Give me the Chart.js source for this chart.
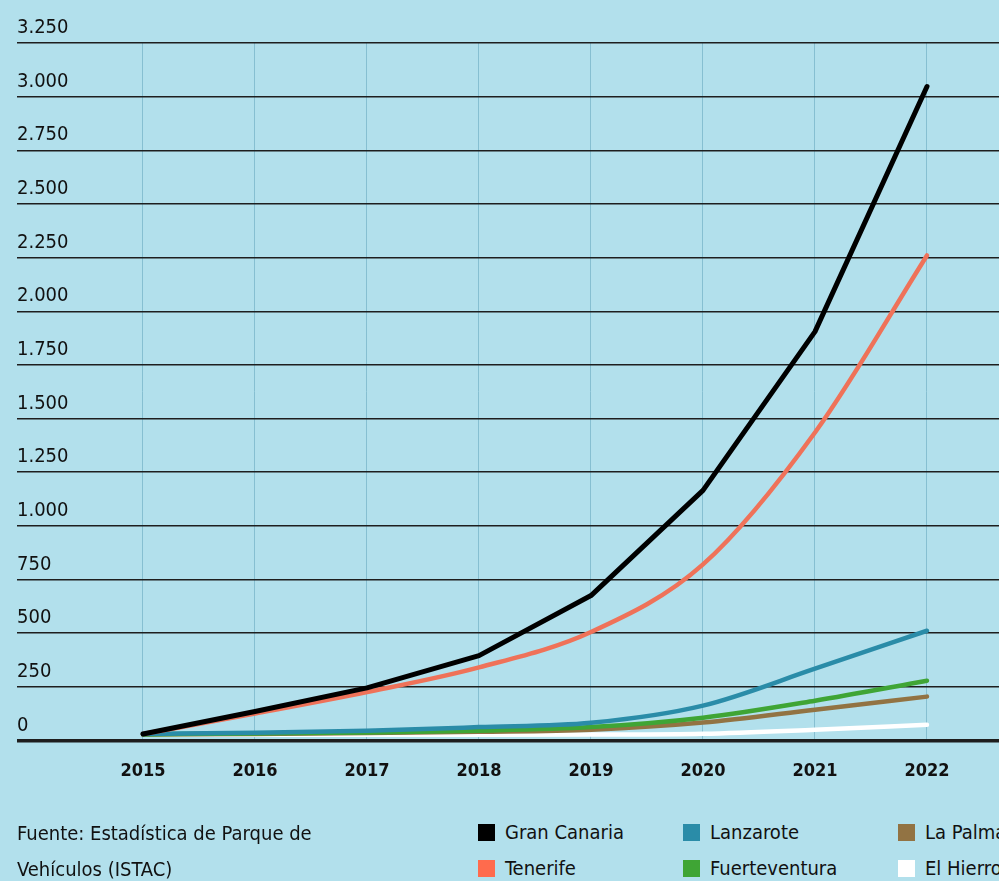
<!DOCTYPE html>
<html><head><meta charset="utf-8">
<script src="https://cdn.jsdelivr.net/npm/chart.js@4"></script>
<style>
html,body{margin:0;padding:0;background:#b2e0ec;width:999px;height:881px;overflow:hidden;font-family:"DejaVu Sans Condensed","Liberation Sans Narrow",sans-serif;}
#c{position:absolute;left:0;top:0;}
#source{position:absolute;left:17px;top:815px;font-size:20px;line-height:36px;color:#111;}
.leg{position:absolute;font-size:20px;color:#111;white-space:nowrap;line-height:24px;}
.sw{display:inline-block;width:17px;height:17px;margin-right:10px;vertical-align:-2px;}
</style></head>
<body>
<canvas id="c" width="999" height="818"></canvas>
<div id="source">Fuente: Estadística de Parque de<br>Vehículos (ISTAC)</div>
<div id="legend"></div>
<script>
const years = [2015, 2016, 2017, 2018, 2019, 2020, 2021, 2022];
const granCanaria   = [30, 135, 245, 395, 675, 1165, 1905, 3047];
const tenerife      = [30, 125, 225, 340, 505, 820, 1435, 2260];
const lanzarote     = [30, 36, 45, 62, 82, 162, 334, 511];
const fuerteventura = [28, 32, 37, 45, 62, 106, 185, 278];
const laPalma       = [28, 30, 34, 40, 50, 83, 143, 204];
const elHierro      = [26, 26, 26, 26, 27, 31, 50, 73];
const seriesNames   = ['Gran Canaria', 'Tenerife', 'Lanzarote', 'Fuerteventura', 'La Palma', 'El Hierro'];
const seriesValues  = [granCanaria, tenerife, lanzarote, fuerteventura, laPalma, elHierro];
const lineColors    = ['#000000', '#ef7259', '#2a8ca8', '#3fa535', '#927343', '#ffffff'];
const legendColors  = ['#000000', '#ff6b4d', '#2a8ca8', '#3fa535', '#927343', '#ffffff'];
const yTicks = [0, 250, 500, 750, 1000, 1250, 1500, 1750, 2000, 2250, 2500, 2750, 3000, 3250];

function fmt(v){ return String(v).replace(/\B(?=(\d{3})+(?!\d))/g, '.'); }

const FONT = '"DejaVu Sans Condensed","Liberation Sans Narrow",sans-serif';

const datasets = seriesNames.map((name, i) => ({
  label: name,
  data: years.map((y, j) => ({x: y, y: seriesValues[i][j]})),
  borderColor: lineColors[i],
  backgroundColor: lineColors[i],
  borderWidth: i === 0 ? 5 : 4.5,
  pointRadius: 0,
  borderCapStyle: 'round',
  borderJoinStyle: 'round',
  cubicInterpolationMode: i === 0 ? 'default' : 'monotone',
  tension: 0,
  clip: false
}));

new Chart(document.getElementById('c'), {
  type: 'line',
  data: { datasets },
  options: {
    responsive: false,
    animation: false,
    devicePixelRatio: 1,
    layout: { padding: { left: 17, right: 0, top: 43, bottom: 16 } },
    plugins: { legend: { display: false }, tooltip: { enabled: false } },
    scales: {
      x: {
        type: 'linear',
        min: 2013.875,
        max: 2022.643,
        afterBuildTicks: s => { s.ticks = years.map(v => ({value: v})); },
        grid: { color: '#86bfd1', lineWidth: 1, drawTicks: false },
        border: { display: false },
        ticks: {
          callback: v => String(v),
          color: '#111',
          padding: 20,
          font: { family: FONT, size: 18, weight: 'bold' }
        }
      },
      y: {
        min: 0,
        max: 3250,
        afterBuildTicks: s => { s.ticks = yTicks.map(v => ({value: v})); },
        grid: {
          color: '#1e1e1e',
          lineWidth: c => (c.tick && c.tick.value === 0) ? 3.5 : 1.4,
          drawTicks: false
        },
        border: { display: false },
        ticks: {
          mirror: true,
          padding: 0,
          labelOffset: -15,
          color: '#111',
          callback: v => fmt(v),
          font: { family: FONT, size: 20 }
        }
      }
    }
  }
});

// legend in three columns, two rows
const legCols = [478, 683, 898];
const legRows = [820, 856];
const legend = document.getElementById('legend');
seriesNames.forEach((name, i) => {
  const d = document.createElement('div');
  d.className = 'leg';
  d.style.left = legCols[Math.floor(i / 2)] + 'px';
  d.style.top = legRows[i % 2] + 'px';
  d.innerHTML = '<span class="sw" style="background:' + legendColors[i] + '"></span>' + name;
  legend.appendChild(d);
});
</script>
</body></html>
